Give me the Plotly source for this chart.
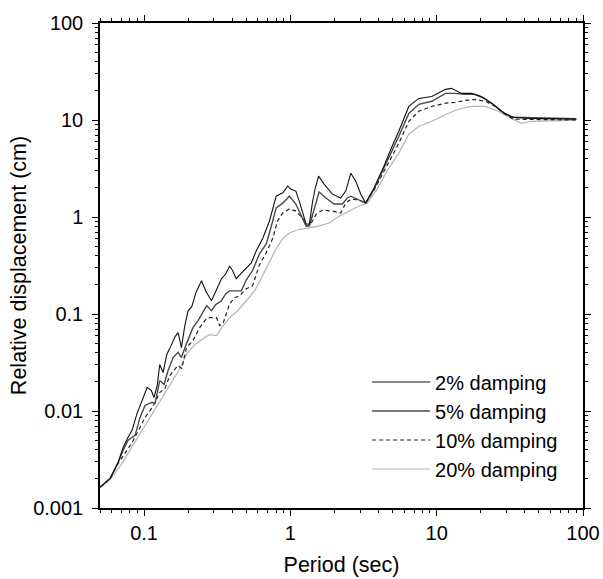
import plotly.graph_objects as go

# ---- data (period in s, relative displacement in cm) ----
period_2 = [0.0502, 0.0588, 0.0666, 0.0720, 0.0778, 0.0828, 0.0896, 0.0969, 0.105, 0.112,
            0.117, 0.123, 0.128, 0.135, 0.143, 0.153, 0.163, 0.171, 0.180, 0.190,
            0.200, 0.212, 0.226, 0.247, 0.264, 0.289, 0.309, 0.338, 0.362, 0.385,
            0.403, 0.427, 0.464, 0.500, 0.541, 0.585, 0.649, 0.720, 0.800, 0.887,
            0.959, 1.01, 1.09, 1.15, 1.21, 1.28, 1.35, 1.42, 1.48, 1.56,
            1.70, 1.94, 2.21, 2.39, 2.59, 2.80, 3.03, 3.27, 3.73, 4.36,
            4.86, 5.51, 6.45, 7.55, 9.25, 11.5, 12.6, 14.8, 17.3, 20.2,
            23.7, 27.7, 32.4, 42.3, 90]
disp_2 = [0.00164, 0.00203, 0.00296, 0.00423, 0.00536, 0.00632, 0.00945, 0.0129, 0.0175, 0.0163,
          0.0138, 0.0183, 0.0301, 0.0249, 0.0382, 0.0472, 0.0585, 0.0643, 0.0451, 0.0758,
          0.108, 0.119, 0.166, 0.220, 0.173, 0.137, 0.173, 0.231, 0.260, 0.313,
          0.279, 0.231, 0.266, 0.299, 0.337, 0.448, 0.608, 0.910, 1.64, 1.78,
          2.08, 1.93, 1.85, 1.46, 1.10, 0.848, 0.848, 1.46, 1.99, 2.64,
          2.18, 1.72, 1.57, 1.85, 2.83, 2.34, 1.72, 1.39, 1.99, 3.34,
          5.00, 7.65, 13.8, 16.7, 17.5, 20.7, 21.2, 18.8, 18.8, 17.5,
          14.9, 12.3, 10.7, 10.4, 10.2]

period_5 = [0.0502, 0.0588, 0.0666, 0.0720, 0.0778, 0.0869, 0.0939, 0.1016, 0.113, 0.119,
            0.128, 0.137, 0.146, 0.158, 0.171, 0.180, 0.195, 0.216, 0.234, 0.252,
            0.268, 0.289, 0.309, 0.338, 0.362, 0.385, 0.427, 0.462, 0.500, 0.551,
            0.615, 0.684, 0.732, 0.800, 0.887, 0.984, 1.09, 1.17, 1.28, 1.35,
            1.46, 1.57, 1.75, 1.99, 2.27, 2.45, 2.59, 2.87, 3.27, 3.73,
            4.36, 4.86, 5.51, 6.45, 7.55, 9.25, 11.5, 13.2, 15.5, 18.1,
            21.2, 24.8, 29.0, 33.4, 90]
disp_5 = [0.00164, 0.00203, 0.00296, 0.00394, 0.00499, 0.00561, 0.00859, 0.0114, 0.0123, 0.0120,
          0.0206, 0.0188, 0.0261, 0.0356, 0.0403, 0.0356, 0.0495, 0.0723, 0.0853, 0.103,
          0.122, 0.108, 0.125, 0.137, 0.162, 0.173, 0.173, 0.173, 0.225, 0.279,
          0.417, 0.528, 0.753, 1.24, 1.39, 1.64, 1.36, 1.07, 0.809, 0.809,
          1.24, 1.81, 1.57, 1.36, 1.36, 1.57, 1.64, 1.53, 1.39, 1.94,
          3.19, 4.66, 6.80, 11.7, 14.5, 15.6, 18.8, 18.8, 18.4, 18.4,
          16.7, 14.2, 11.7, 10.7, 10.3]

period_10 = [0.0502, 0.0588, 0.0666, 0.0743, 0.0824, 0.0910, 0.1016, 0.110, 0.119, 0.128,
             0.139, 0.150, 0.170, 0.181, 0.195, 0.216, 0.240, 0.267, 0.281, 0.313,
             0.329, 0.346, 0.385, 0.416, 0.450, 0.500, 0.551, 0.615, 0.684, 0.759,
             0.817, 0.887, 0.984, 1.09, 1.21, 1.29, 1.38, 1.50, 1.66, 1.94,
             2.21, 2.39, 2.60, 2.95, 3.27, 3.73, 4.36, 4.86, 5.51, 6.45,
             7.55, 9.25, 11.5, 13.4, 15.7, 18.4, 21.5, 25.2, 29.4, 33.4,
             90]
disp_10 = [0.00164, 0.00203, 0.00289, 0.00367, 0.00465, 0.00617, 0.00859, 0.0101, 0.0123, 0.0155,
           0.0171, 0.0232, 0.0294, 0.0274, 0.0451, 0.0532, 0.0723, 0.0895, 0.0916, 0.0916,
           0.0758, 0.0795, 0.128, 0.147, 0.154, 0.182, 0.195, 0.321, 0.427, 0.608,
           0.910, 1.10, 1.21, 1.15, 0.977, 0.809, 0.848, 1.07, 1.18, 1.15,
           1.10, 1.39, 1.53, 1.50, 1.39, 1.89, 2.97, 4.14, 5.76, 9.70,
           12.3, 13.8, 14.9, 15.2, 15.9, 16.3, 15.6, 13.8, 11.4, 10.2,
           10.0]

period_20 = [0.0502, 0.0588, 0.0687, 0.0778, 0.0896, 0.1016, 0.115, 0.132, 0.154, 0.176,
             0.196, 0.222, 0.252, 0.281, 0.313, 0.340, 0.379, 0.436, 0.500, 0.569,
             0.635, 0.720, 0.791, 0.882, 0.984, 1.15, 1.35, 1.57, 1.84, 2.15,
             2.52, 2.95, 3.36, 3.91, 4.57, 5.51, 6.45, 7.55, 9.25, 11.5,
             14.1, 17.3, 21.5, 26.4, 32.4, 37.8, 44.3, 90]
disp_20 = [0.00164, 0.00198, 0.00270, 0.00367, 0.00523, 0.00728, 0.00991, 0.0135, 0.0197, 0.0274,
           0.0391, 0.0483, 0.0557, 0.0612, 0.0598, 0.0723, 0.0895, 0.108, 0.137, 0.173,
           0.236, 0.353, 0.458, 0.594, 0.685, 0.747, 0.771, 0.809, 0.868, 1.02,
           1.15, 1.30, 1.39, 1.94, 2.97, 4.55, 7.13, 8.61, 9.70, 11.4,
           12.9, 13.8, 13.8, 12.3, 10.4, 9.25, 9.70, 9.95]

series_names = ["2% damping", "5% damping", "10% damping", "20% damping"]

x_tickvals = [0.1, 1, 10, 100]
x_ticktext = ["0.1", "1", "10", "100"]
y_tickvals = [0.001, 0.01, 0.1, 1, 10, 100]
y_ticktext = ["0.001", "0.01", "0.1", "1", "10", "100"]

FONT = "Liberation Sans, Arial, Helvetica, sans-serif"

fig = go.Figure()
specs = [
    (period_20, disp_20, series_names[3], dict(color="#b4b4b4", width=1.2), 4),
    (period_10, disp_10, series_names[2], dict(color="#222222", width=1.2, dash="4px,3px"), 3),
    (period_5, disp_5, series_names[1], dict(color="#4a4a4a", width=1.4), 2),
    (period_2, disp_2, series_names[0], dict(color="#111111", width=1.1), 1),
]
for px, py, name, line, rank in specs:
    fig.add_trace(go.Scatter(x=px, y=py, mode="lines", name=name, line=line,
                             legendgroup=name, legendrank=rank))

minor_x = [m * 10 ** e for e in (-2, -1, 0, 1) for m in range(2, 10)]
minor_y = [m * 10 ** e for e in (-3, -2, -1, 0, 1) for m in range(2, 10)]

axis_common = dict(
    showgrid=False, zeroline=False, showline=True, linecolor="black", linewidth=1.5,
    mirror="allticks", ticks="outside", ticklen=6, tickwidth=1.3, tickcolor="black",
    tickfont=dict(family=FONT, size=20, color="black"),
)

fig.update_xaxes(type="log", range=[-1.30103, 2], tickmode="array",
                 tickvals=x_tickvals, ticktext=x_ticktext, automargin=False,
                 minor=dict(tickmode="array", tickvals=minor_x, ticks="outside",
                            ticklen=3, tickwidth=1.2, tickcolor="black", showgrid=False),
                 title=dict(text="Period (sec)", font=dict(family=FONT, size=21.5, color="black"),
                            standoff=14),
                 **axis_common)
fig.update_yaxes(type="log", range=[-3, 2], tickmode="array",
                 tickvals=y_tickvals, ticktext=y_ticktext, ticklabelstandoff=5,
                 automargin=True,
                 minor=dict(tickmode="array", tickvals=minor_y, ticks="outside",
                            ticklen=3, tickwidth=1.2, tickcolor="black", showgrid=False),
                 title=dict(text="Relative displacement (cm)",
                            font=dict(family=FONT, size=21.5, color="black"), standoff=1),
                 **axis_common)

fig.update_layout(
    width=603, height=579,
    margin=dict(l=100, r=17, t=21, b=71),
    paper_bgcolor="white", plot_bgcolor="white",
    font=dict(family=FONT, size=20, color="black"),
    showlegend=True,
    legend=dict(x=0.553, y=0.30, xanchor="left", yanchor="top",
                bgcolor="rgba(0,0,0,0)", borderwidth=0,
                font=dict(family=FONT, size=20, color="black"),
                traceorder="grouped", tracegroupgap=0, itemwidth=58),
)

fig.write_html("out.html", config={"displayModeBar": False},
               post_script="document.body.style.margin='0';")
